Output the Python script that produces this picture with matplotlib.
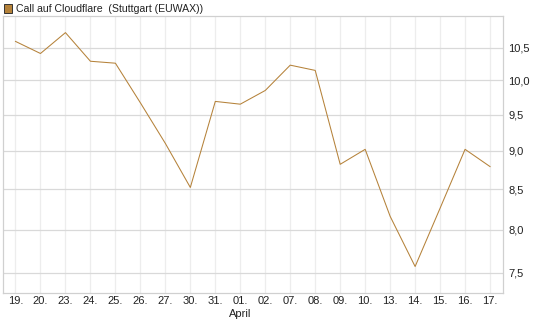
import matplotlib
matplotlib.use("Agg")
import matplotlib.pyplot as plt
from matplotlib.ticker import FixedLocator, FuncFormatter, NullLocator
from matplotlib.patches import Rectangle

plt.rcParams['font.family'] = ['Liberation Sans', 'DejaVu Sans']

dates = ['19.', '20.', '23.', '24.', '25.', '26.', '27.', '30.', '31.', '01.',
         '02.', '07.', '08.', '09.', '10.', '13.', '14.', '15.', '16.', '17.']
prices = [10.60, 10.41, 10.74, 10.29, 10.26, 9.67, 9.10, 8.52, 9.69, 9.65,
          9.85, 10.23, 10.15, 8.82, 9.02, 8.16, 7.57, 8.26, 9.02, 8.79]
y_ticks = [7.5, 8.0, 8.5, 9.0, 9.5, 10.0, 10.5]
month_label = 'April'
month_pos = 9
title = 'Call auf Cloudflare  (Stuttgart (EUWAX))'

line_color = '#b5823a'

fig = plt.figure(figsize=(5.45, 3.27), dpi=100)
ax = fig.add_axes([0.0046, 0.104, 0.9184, 0.847])

x = list(range(len(dates)))
ax.plot(x, prices, color=line_color, lw=0.75)

ax.set_yscale('log')
ax.set_ylim(7.276, 11.01)
ax.set_xlim(-0.52, len(dates) - 0.48)
ax.yaxis.set_major_locator(FixedLocator(y_ticks))
ax.yaxis.set_minor_locator(NullLocator())
ax.yaxis.set_major_formatter(FuncFormatter(lambda v, p: f'{v:.1f}'.replace('.', ',')))
ax.yaxis.tick_right()
ax.set_xticks(x)
ax.set_xticklabels(dates)
ax.tick_params(axis='both', length=0, labelsize=8, colors='#222222')
ax.tick_params(axis='y', pad=4)
ax.tick_params(axis='x', pad=2)

ax.grid(axis='y', color='#d9d9d9', lw=0.9)
ax.grid(axis='x', color='#ededed', lw=0.9)
ax.set_axisbelow(True)
for s in ax.spines.values():
    s.set_color('#d0d0d0')
    s.set_linewidth(0.9)

ax.text(month_pos, -0.058, month_label, transform=ax.get_xaxis_transform(),
        ha='center', va='top', fontsize=8, color='#222222')

# legend at top left
fig.patches.append(Rectangle((4 / 545, 1 - 12.5 / 327), 8 / 545, 8 / 327,
                             transform=fig.transFigure, facecolor=line_color,
                             edgecolor='#333333', lw=0.7))
fig.text(16 / 545, 1 - 8.5 / 327, title, ha='left', va='center', fontsize=7.6,
         color='#222222')

fig.savefig('out.png', dpi=100)
